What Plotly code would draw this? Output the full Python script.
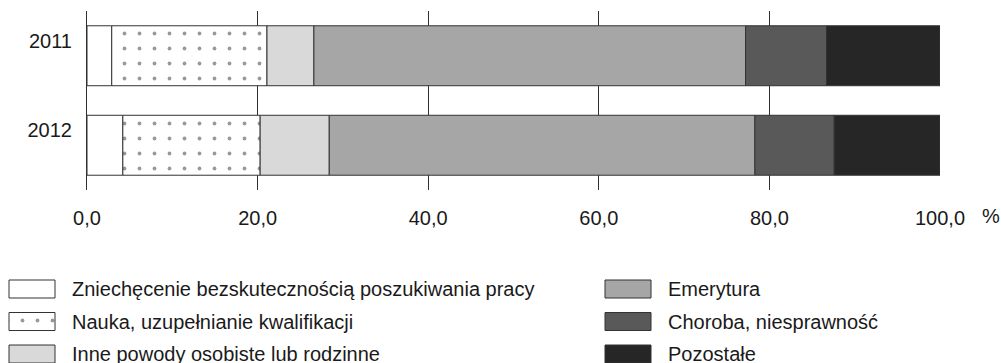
import plotly.graph_objects as go

years = ["2011", "2012"]
reasons = [
    "Zniechęcenie bezskutecznością poszukiwania pracy",
    "Nauka, uzupełnianie kwalifikacji",
    "Inne powody osobiste lub rodzinne",
    "Emerytura",
    "Choroba, niesprawność",
    "Pozostałe",
]
share_2011 = [2.9, 18.2, 5.5, 50.6, 9.5, 13.3]
share_2012 = [4.2, 16.1, 8.1, 49.9, 9.3, 12.4]
x_ticks = [0, 20, 40, 60, 80, 100]
x_tick_labels = ["0,0", "20,0", "40,0", "60,0", "80,0", "100,0"]
unit_label = "%"

colors = ["#ffffff", "#ffffff", "#d9d9d9", "#a6a6a6", "#595959", "#262626"]
patterns = ["", ".", "", "", "", ""]
edge = "#333333"
FONT = "Liberation Sans, Arial, sans-serif"
pattern_style = dict(fgcolor="#333333", bgcolor="#ffffff", size=15, solidity=0.05)

W, H = 1001, 363
fig = go.Figure()

base11, base12 = 0.0, 0.0
for i, name in enumerate(reasons):
    vals = [share_2011[i], share_2012[i]]
    fig.add_trace(go.Bar(
        orientation="h", y=years, x=vals, base=[base11, base12],
        width=0.67, name=name, showlegend=False,
        marker=dict(color=colors[i], line=dict(color=edge, width=1),
                    pattern=dict(shape=patterns[i], **pattern_style)),
        xaxis="x", yaxis="y",
    ))
    base11 += share_2011[i]
    base12 += share_2012[i]

# custom legend (pixel-like coordinates on a hidden axis pair)
leg_x0 = [9, 605]
leg_rows = [289, 321.5, 354]
sw_w, sw_h, txt_gap = 46, 18, 15
annotations = []
for i, name in enumerate(reasons):
    col, row = i // 3, i % 3
    x0, yc = leg_x0[col], leg_rows[row]
    fig.add_trace(go.Bar(
        orientation="h", y=[yc], x=[sw_w], base=[x0], width=sw_h,
        showlegend=False, hoverinfo="skip",
        marker=dict(color=colors[i], line=dict(color=edge, width=1),
                    pattern=dict(shape=patterns[i], **pattern_style)),
        xaxis="x2", yaxis="y2",
    ))
    annotations.append(dict(
        x=x0 + sw_w + txt_gap, y=yc, xref="x2", yref="y2", text=name,
        showarrow=False, xanchor="left", yanchor="middle",
        font=dict(family=FONT, size=20, color="#1a1a1a"),
    ))

annotations.append(dict(
    x=991 / W, y=1 - 216 / H, xref="paper", yref="paper", text=unit_label,
    showarrow=False, xanchor="center", yanchor="middle",
    font=dict(family=FONT, size=20, color="#1a1a1a"),
))

fig.update_layout(
    width=W, height=H,
    margin=dict(l=0, r=0, t=0, b=0),
    paper_bgcolor="#ffffff", plot_bgcolor="#ffffff",
    barmode="overlay",
    showlegend=False,
    font=dict(family=FONT, size=20, color="#1a1a1a"),
    xaxis=dict(
        domain=[87 / W, 940 / W], range=[0, 100],
        tickvals=x_ticks, ticktext=x_tick_labels,
        showgrid=True, gridcolor="#303030", gridwidth=1,
        zeroline=False, showline=False, ticks="",
        ticklabelstandoff=14, automargin=False,
        tickfont=dict(family=FONT, size=20, color="#1a1a1a"),
        anchor="y",
    ),
    yaxis=dict(
        domain=[1 - 190 / H, 1 - 11 / H],
        categoryorder="array", categoryarray=years, autorange="reversed",
        showgrid=False, zeroline=False, showline=True, linecolor="#303030", linewidth=1,
        ticks="", ticklabelstandoff=10, ticklabelshift=15, automargin=False,
        tickfont=dict(family=FONT, size=20, color="#1a1a1a"),
        anchor="x",
    ),
    xaxis2=dict(domain=[0, 1], range=[0, W], visible=False, anchor="y2", fixedrange=True),
    yaxis2=dict(domain=[0, (H - 268) / H], range=[H, 268], visible=False, anchor="x2", fixedrange=True),
    annotations=annotations,
)

fig.write_html(
    "out.html",
    config={"displayModeBar": False},
    post_script="document.body.style.margin='0';document.body.style.overflow='hidden';",
)
